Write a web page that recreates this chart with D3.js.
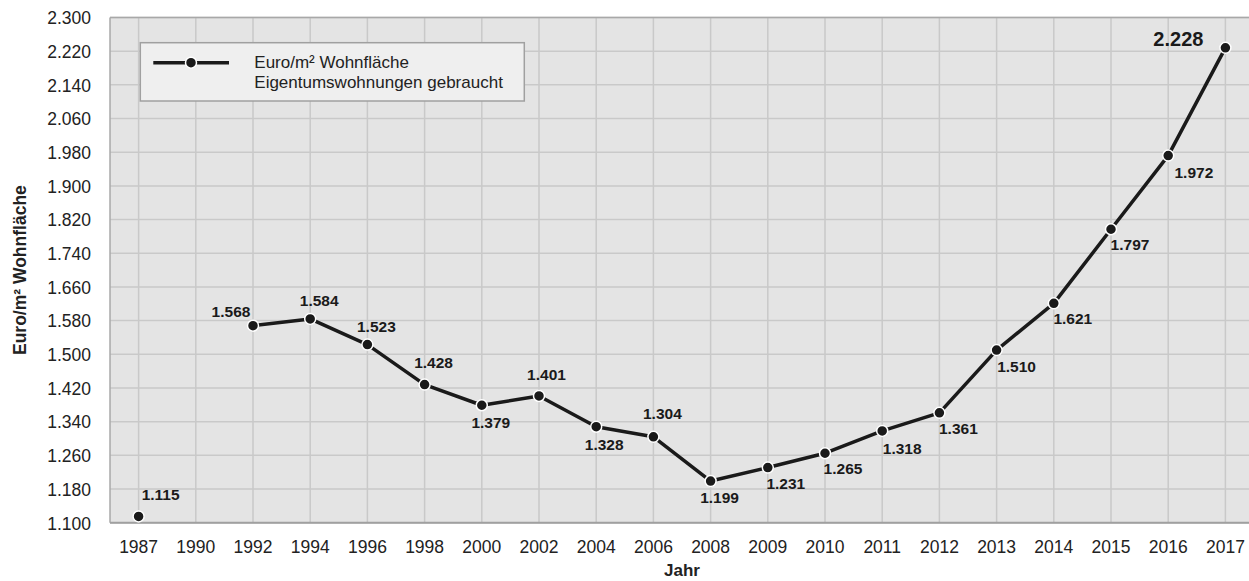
<!DOCTYPE html>
<html><head><meta charset="utf-8">
<script src="https://cdn.jsdelivr.net/npm/d3@7"></script>
<style>
body{margin:0;background:#fff;}
svg{display:block;font-family:"Liberation Sans",Arial,sans-serif;}
</style></head>
<body>
<svg id="chart" width="1249" height="581"></svg>
<script>
const years = ["1987","1990","1992","1994","1996","1998","2000","2002","2004","2006","2008","2009","2010","2011","2012","2013","2014","2015","2016","2017"];
const values = [1115,null,1568,1584,1523,1428,1379,1401,1328,1304,1199,1231,1265,1318,1361,1510,1621,1797,1972,2228];
const yTicks = [1100,1180,1260,1340,1420,1500,1580,1660,1740,1820,1900,1980,2060,2140,2220,2300];
const seriesName = ["Euro/m² Wohnfläche","Eigentumswohnungen gebraucht"];

(function(){
const svg = d3.select("#chart");
const pL = 110, pT = 17.5, pB = 522.7, step = 57.2;
const pR = pL + step*years.length;
const x = d3.scaleBand().domain(years).range([pL, pR]).padding(0);
const y = d3.scaleLinear().domain([1100,2300]).range([pB, pT]);
const fmt = v => d3.format(",")(v).replace(/,/g,".");
const cx = d => x(d) + x.bandwidth()/2;

svg.append("rect").attr("x",pL).attr("y",pT).attr("width",pR-pL).attr("height",pB-pT).attr("fill","#e4e4e4");
svg.append("g").selectAll("line").data(yTicks).join("line")
  .attr("x1",pL).attr("x2",pR).attr("y1",d=>y(d)).attr("y2",d=>y(d))
  .attr("stroke","#c9c9c9").attr("stroke-width",1.5);
svg.append("g").selectAll("line").data(years).join("line")
  .attr("x1",d=>cx(d)).attr("x2",d=>cx(d)).attr("y1",pT).attr("y2",pB)
  .attr("stroke","#c9c9c9").attr("stroke-width",1.5);
svg.append("line").attr("x1",pL).attr("x2",pR).attr("y1",pT).attr("y2",pT).attr("stroke","#a8a8a8").attr("stroke-width",1.5);
svg.append("line").attr("x1",pL).attr("x2",pL).attr("y1",pT).attr("y2",pB).attr("stroke","#a8a8a8").attr("stroke-width",1.5);
svg.append("line").attr("x1",pL).attr("x2",pR).attr("y1",pB).attr("y2",pB).attr("stroke","#a0a0a0").attr("stroke-width",2);

const yAxis = d3.axisLeft(y).tickValues(yTicks).tickFormat(fmt).tickSize(0).tickPadding(0);
const gy = svg.append("g").attr("transform",`translate(${pL-19},0)`).call(yAxis);
gy.select(".domain").remove();
gy.selectAll("text").attr("font-size",17.5).attr("fill","#222").attr("font-family","Liberation Sans, Arial, sans-serif").attr("dy","0.36em");

const xAxis = d3.axisBottom(x).tickSize(0).tickPadding(0);
const gx = svg.append("g").attr("transform",`translate(0,${pB})`).call(xAxis);
gx.select(".domain").remove();
gx.selectAll("text").attr("font-size",17.5).attr("fill","#222").attr("font-family","Liberation Sans, Arial, sans-serif").attr("dy",null).attr("y",30.8);

svg.append("text").attr("x",(pL+pR)/2).attr("y",575.5).attr("text-anchor","middle")
  .attr("font-size",17).attr("font-weight","bold").attr("fill","#222").text("Jahr");
svg.append("text").attr("transform",`translate(26,${(pT+pB)/2}) rotate(-90)`).attr("text-anchor","middle")
  .attr("font-size",17.5).attr("font-weight","bold").attr("fill","#222").text("Euro/m² Wohnfläche");

const data = years.map((yr,i)=>({yr, v:values[i]}));
const line = d3.line().defined(d=>d.v!=null).x(d=>cx(d.yr)).y(d=>y(d.v));
svg.append("path").datum(data).attr("d",line).attr("fill","none").attr("stroke","#1a1a1a").attr("stroke-width",3.5).attr("stroke-linejoin","round");
const pts = data.filter(d=>d.v!=null);
svg.append("g").selectAll("circle").data(pts).join("circle")
  .attr("cx",d=>cx(d.yr)).attr("cy",d=>y(d.v)).attr("r",5.5)
  .attr("fill","#1a1a1a").attr("stroke","#fff").attr("stroke-width",1.5);

const off = {
  "1987":[22,-16],"1992":[-22,-9],"1994":[9,-12.6],"1996":[9,-12.6],"1998":[9,-17],
  "2000":[9,23],"2002":[7.5,-15.7],"2004":[8,23],"2006":[9,-17.7],"2008":[9,22],
  "2009":[18,21],"2010":[18,21],"2011":[20,23],"2012":[19,20.7],"2013":[20,22],
  "2014":[19,21],"2015":[19,21],"2016":[25.7,22],"2017":[-47,-1.5]
};
svg.append("g").selectAll("text").data(pts).join("text")
  .attr("x",d=>cx(d.yr)+off[d.yr][0]).attr("y",d=>y(d.v)+off[d.yr][1])
  .attr("text-anchor","middle").attr("font-weight","bold")
  .attr("font-size",d=>d.yr==="2017"?20:15.5).attr("fill","#1a1a1a")
  .text(d=>fmt(d.v));

const lg = svg.append("g");
lg.append("rect").attr("x",140.3).attr("y",42.7).attr("width",384).attr("height",58.3)
  .attr("fill","#efefef").attr("stroke","#a0a0a0").attr("stroke-width",1.5);
lg.append("line").attr("x1",153.3).attr("x2",229).attr("y1",62.7).attr("y2",62.7).attr("stroke","#1a1a1a").attr("stroke-width",3.5);
lg.append("circle").attr("cx",191).attr("cy",62.7).attr("r",5.5).attr("fill","#1a1a1a").attr("stroke","#fff").attr("stroke-width",1.5);
lg.selectAll("text.l").data(seriesName).join("text").attr("class","l")
  .attr("x",254.3).attr("y",(d,i)=>67.5+i*20).attr("font-size",17).attr("fill","#222").text(d=>d);
})();
</script>
</body></html>
